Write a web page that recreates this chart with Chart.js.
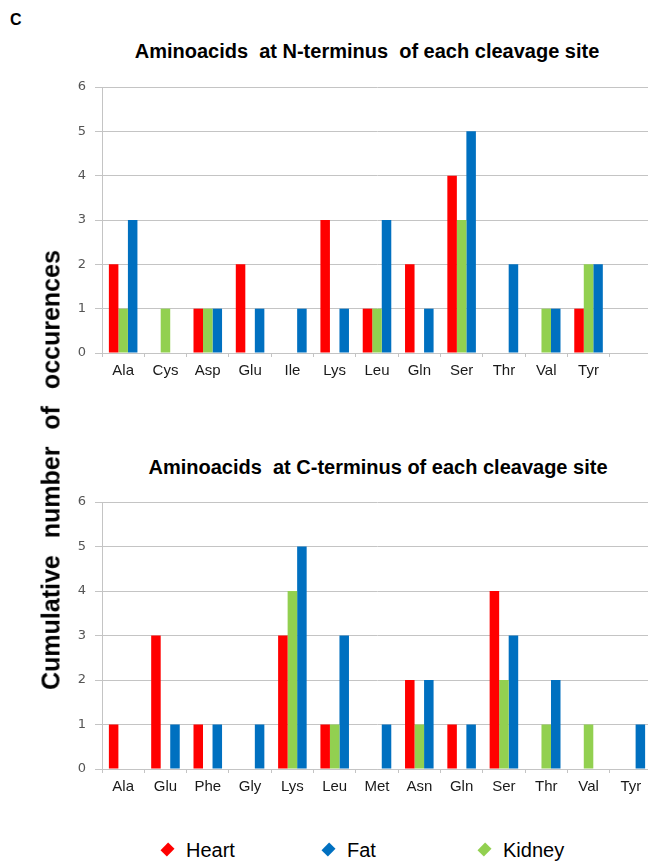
<!DOCTYPE html>
<html>
<head>
<meta charset="utf-8">
<script src="https://cdn.jsdelivr.net/npm/chart.js@4/dist/chart.umd.min.js"></script>
<style>
  html, body { margin: 0; padding: 0; background: #fff; }
  body { width: 648px; height: 861px; overflow: hidden; position: relative; font-family: "Liberation Sans", Arial, sans-serif; }
  #topWrap { position: absolute; left: 0; top: 67px; width: 700px; height: 323px; }
  #bottomWrap { position: absolute; left: 0; top: 482px; width: 700px; height: 324px; }
  .panel { position: absolute; left: 10px; top: 11px; font-weight: bold; font-size: 16px; }
  .title {
    position: absolute; width: 600px; text-align: center; white-space: pre;
    font-weight: bold; font-size: 20px; line-height: 22px; color: #000;
  }
  .ylabel {
    position: absolute; left: 51px; top: 470px;
    transform: translate(-50%, -50%) rotate(-90deg);
    white-space: nowrap;
    font-weight: bold; font-size: 25px; word-spacing: 10px; color: #000;
  }
  .legend { position: absolute; top: 839px; font-size: 20px; color: #000; white-space: nowrap; }
  .legend i { display: inline-block; width: 9px; height: 9px; transform: rotate(45deg) scaleY(1.2); margin-right: 14px; vertical-align: 3px; }
</style>
</head>
<body>
<div class="panel">C</div>
<div class="title" style="left:67px; top:40px">Aminoacids  at N-terminus  of each cleavage site</div>
<div class="title" style="left:78px; top:456px">Aminoacids  at C-terminus of each cleavage site</div>
<div id="topWrap"><canvas id="nChart" width="700" height="323"></canvas></div>
<div id="bottomWrap"><canvas id="cChart" width="700" height="324"></canvas></div>
<div class="ylabel">Cumulative number of occurences</div>
<div class="legend" style="left:163px"><i style="background:#ff0000"></i>Heart</div>
<div class="legend" style="left:324px"><i style="background:#0070c0"></i>Fat</div>
<div class="legend" style="left:480px"><i style="background:#92d050"></i>Kidney</div>

<script>
// Amino acids found at the N-terminus (last slot is an empty category)
const nLabels = ["Ala", "Cys", "Asp", "Glu", "Ile", "Lys", "Leu", "Gln", "Ser", "Thr", "Val", "Tyr", ""];
const nHeart  = [2, 0, 1, 2, 0, 3, 1, 2, 4, 0, 0, 1, 0];
const nKidney = [1, 1, 1, 0, 0, 0, 1, 0, 3, 0, 1, 2, 0];
const nFat    = [3, 0, 1, 1, 1, 1, 3, 1, 5, 2, 1, 2, 0];

// Amino acids found at the C-terminus
const cLabels = ["Ala", "Glu", "Phe", "Gly", "Lys", "Leu", "Met", "Asn", "Gln", "Ser", "Thr", "Val", "Tyr"];
const cHeart  = [1, 3, 1, 0, 3, 1, 0, 2, 1, 4, 0, 0, 0];
const cKidney = [0, 0, 0, 0, 4, 1, 0, 1, 0, 2, 1, 1, 0];
const cFat    = [0, 1, 1, 1, 5, 3, 1, 2, 1, 3, 2, 0, 1];

const yTicks = [0, 1, 2, 3, 4, 5, 6];

const RED = "#ff0000";
const GREEN = "#92d050";
const BLUE = "#0070c0";
const GRID = "#c4c4c4";

// Builds one grouped bar chart
function makeChart(canvasId, labels, heart, kidney, fat) {
  const ctx = document.getElementById(canvasId).getContext("2d");

  return new Chart(ctx, {
    type: "bar",
    data: {
      labels: labels,
      datasets: [
        { label: "Heart", data: heart, backgroundColor: RED },
        { label: "Kidney", data: kidney, backgroundColor: GREEN },
        { label: "Fat", data: fat, backgroundColor: BLUE }
      ]
    },
    options: {
      responsive: false,
      animation: false,
      events: [],
      layout: { padding: { left: 0, right: 48, top: 20, bottom: 0 } },
      datasets: {
        bar: { categoryPercentage: 0.675, barPercentage: 1.0, borderWidth: 0 }
      },
      plugins: {
        legend: { display: false },
        tooltip: { enabled: false }
      },
      scales: {
        x: {
          grid: { drawOnChartArea: false, drawTicks: true, tickLength: 4, color: GRID, offset: true },
          border: { color: GRID },
          ticks: { color: "#1a1a1a", padding: 5, maxRotation: 0, autoSkip: false,
                   font: { family: "Liberation Sans", size: 15 } },
          afterFit: scale => { scale.height = 37; }
        },
        y: {
          min: 0,
          max: 6,
          afterBuildTicks: scale => { scale.ticks = yTicks.map(v => ({ value: v })); },
          grid: { color: GRID, tickLength: 7 },
          border: { color: GRID },
          ticks: { color: "#555", padding: 9, font: { family: "DejaVu Sans", size: 13 } },
          afterFit: scale => { scale.width = 102; }
        }
      }
    }
  });
}

makeChart("nChart", nLabels, nHeart, nKidney, nFat);
makeChart("cChart", cLabels, cHeart, cKidney, cFat);
</script>
</body>
</html>
